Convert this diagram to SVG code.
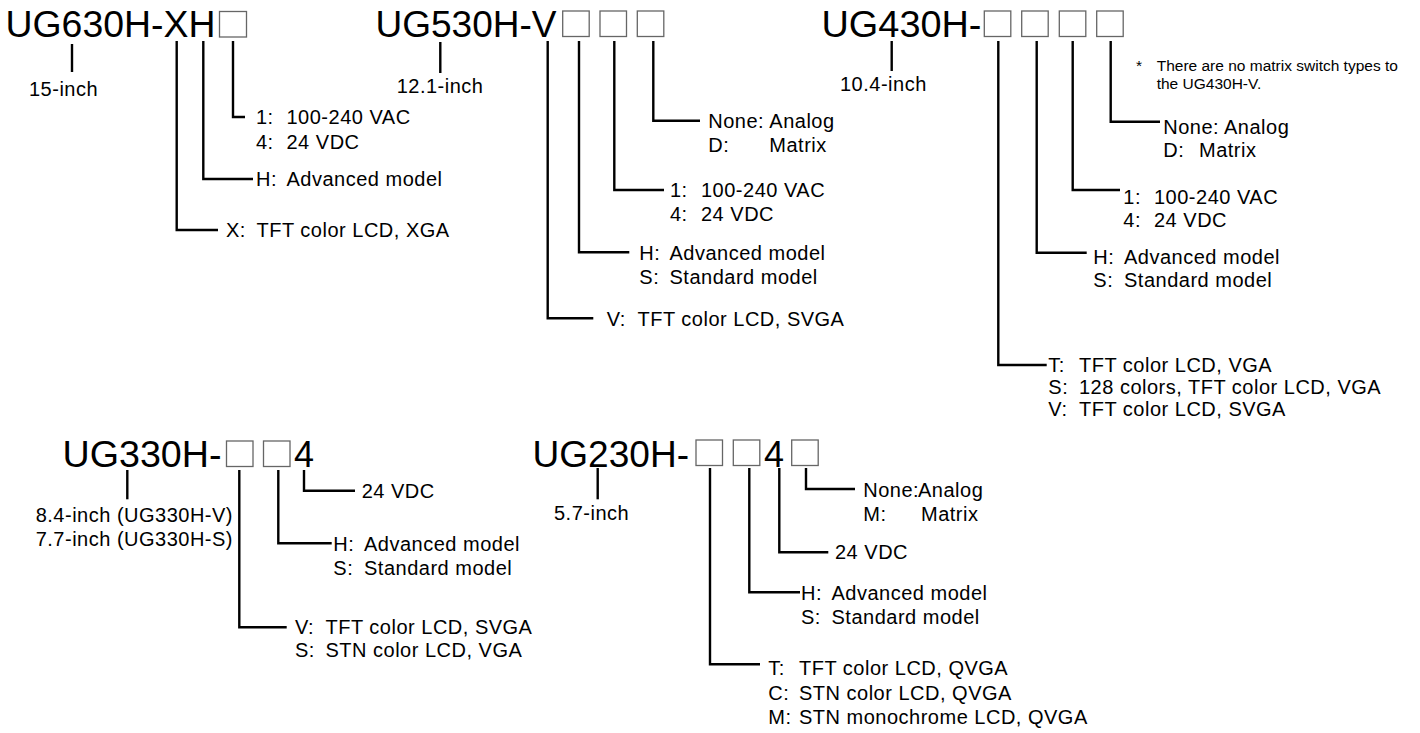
<svg xmlns="http://www.w3.org/2000/svg" width="1420" height="733" viewBox="0 0 1420 733">
<style>
text{font-family:"Liberation Sans",Arial,sans-serif;fill:#000}
.t{font-size:36px}
.l{font-size:20px;letter-spacing:0.5px}
.n{font-size:15.5px}
.b{fill:#fff;stroke:#666;stroke-width:1.3}
.c{fill:none;stroke:#000;stroke-width:2.4;stroke-linejoin:miter}
</style>
<rect width="1420" height="733" fill="#fff"/>
<g id="connectors">
<path class="c" d="M72 44V72"/>
<path class="c" d="M233 41V117H245"/>
<path class="c" d="M203.3 41V179H253"/>
<path class="c" d="M176.7 41V230H218"/>
<path class="c" d="M440.3 42V73"/>
<path class="c" d="M653.3 41V120.7H700"/>
<path class="c" d="M614.3 41V190H664"/>
<path class="c" d="M579 41V252.3H629.3"/>
<path class="c" d="M547.7 41V318.3H593.3"/>
<path class="c" d="M891.7 41V71"/>
<path class="c" d="M1110.7 41V121.7H1160"/>
<path class="c" d="M1072.7 41V190H1120"/>
<path class="c" d="M1036.7 41V252.7H1086.7"/>
<path class="c" d="M998.3 41V365H1046.7"/>
<path class="c" d="M127.3 470V499.3"/>
<path class="c" d="M304 470V490.7H355"/>
<path class="c" d="M278.3 470V543.3H331.7"/>
<path class="c" d="M239.3 470V627.3H286.7"/>
<path class="c" d="M597.7 468V499.3"/>
<path class="c" d="M806 468V489H855"/>
<path class="c" d="M779.3 468V552.3H828.3"/>
<path class="c" d="M749.3 468V592.3H800"/>
<path class="c" d="M710 468V664.3H760"/>
</g>
<g id="ug630h">
<text class="t" x="5.5" y="37" textLength="210" lengthAdjust="spacingAndGlyphs">UG630H-XH</text>
<rect class="b" x="219.5" y="11.5" width="27" height="25.5"/>
<text class="l" x="29" y="96">15-inch</text>
<text class="l" x="256" y="124">1:<tspan x="286.5">100-240 VAC</tspan></text>
<text class="l" x="256" y="149">4:<tspan x="286.5">24 VDC</tspan></text>
<text class="l" x="256" y="186">H:<tspan x="286.5">Advanced model</tspan></text>
<text class="l" x="226" y="237">X:<tspan x="256.5">TFT color LCD, XGA</tspan></text>
</g>
<g id="ug530h">
<text class="t" x="375.5" y="36.5" textLength="181" lengthAdjust="spacingAndGlyphs">UG530H-V</text>
<rect class="b" x="562.7" y="11" width="26.5" height="25.5"/>
<rect class="b" x="600" y="11" width="26.5" height="25.5"/>
<rect class="b" x="637.3" y="11" width="26.5" height="25.5"/>
<text class="l" x="396.7" y="93">12.1-inch</text>
<text class="l" x="708.3" y="127.5">None:<tspan x="769.3">Analog</tspan></text>
<text class="l" x="708.3" y="152">D:<tspan x="769.3">Matrix</tspan></text>
<text class="l" x="670" y="197">1:<tspan x="701">100-240 VAC</tspan></text>
<text class="l" x="670" y="221">4:<tspan x="701">24 VDC</tspan></text>
<text class="l" x="639.3" y="259.5">H:<tspan x="669.5">Advanced model</tspan></text>
<text class="l" x="639.3" y="284">S:<tspan x="669.5">Standard model</tspan></text>
<text class="l" x="606.7" y="325.5">V:<tspan x="637.5">TFT color LCD, SVGA</tspan></text>
</g>
<g id="ug430h">
<text class="t" x="821.5" y="36.5" textLength="160" lengthAdjust="spacingAndGlyphs">UG430H-</text>
<rect class="b" x="984.3" y="11" width="26.5" height="25.5"/>
<rect class="b" x="1021.7" y="11" width="26.5" height="25.5"/>
<rect class="b" x="1059.3" y="11" width="26.5" height="25.5"/>
<rect class="b" x="1096.7" y="11" width="26.5" height="25.5"/>
<text class="l" x="840" y="91">10.4-inch</text>
<text class="n" x="1136" y="71">*</text>
<text class="n" x="1156.7" y="71">There are no matrix switch types to</text>
<text class="n" x="1156.7" y="89">the UG430H-V.</text>
<text class="l" x="1163.3" y="134">None:<tspan x="1224">Analog</tspan></text>
<text class="l" x="1163.3" y="157">D:<tspan x="1199">Matrix</tspan></text>
<text class="l" x="1123.3" y="204">1:<tspan x="1154">100-240 VAC</tspan></text>
<text class="l" x="1123.3" y="227">4:<tspan x="1154">24 VDC</tspan></text>
<text class="l" x="1093.3" y="264">H:<tspan x="1124">Advanced model</tspan></text>
<text class="l" x="1093.3" y="287">S:<tspan x="1124">Standard model</tspan></text>
<text class="l" x="1048.3" y="372">T:<tspan x="1079">TFT color LCD, VGA</tspan></text>
<text class="l" x="1048.3" y="394">S:<tspan x="1079">128 colors, TFT color LCD, VGA</tspan></text>
<text class="l" x="1048.3" y="416">V:<tspan x="1079">TFT color LCD, SVGA</tspan></text>
</g>
<g id="ug330h">
<text class="t" x="62.5" y="466.5" textLength="159" lengthAdjust="spacingAndGlyphs">UG330H-</text>
<rect class="b" x="226.5" y="441" width="26.5" height="25.5"/>
<rect class="b" x="263.5" y="441" width="26.5" height="25.5"/>
<text class="t" x="294" y="466.5">4</text>
<text class="l" x="35.7" y="521.5">8.4-inch (UG330H-V)</text>
<text class="l" x="35.7" y="546">7.7-inch (UG330H-S)</text>
<text class="l" x="361.7" y="498">24 VDC</text>
<text class="l" x="333.3" y="550.5">H:<tspan x="364">Advanced model</tspan></text>
<text class="l" x="333.3" y="575">S:<tspan x="364">Standard model</tspan></text>
<text class="l" x="295" y="634">V:<tspan x="325.5">TFT color LCD, SVGA</tspan></text>
<text class="l" x="295" y="657">S:<tspan x="325.5">STN color LCD, VGA</tspan></text>
</g>
<g id="ug230h">
<text class="t" x="532.5" y="466.5" textLength="156.5" lengthAdjust="spacingAndGlyphs">UG230H-</text>
<rect class="b" x="696" y="440" width="26.5" height="25.5"/>
<rect class="b" x="733.3" y="440" width="26.5" height="25.5"/>
<text class="t" x="764" y="466.5">4</text>
<rect class="b" x="791.7" y="440" width="26.5" height="25.5"/>
<text class="l" x="554" y="520">5.7-inch</text>
<text class="l" x="863.3" y="497">None:<tspan x="918">Analog</tspan></text>
<text class="l" x="863.3" y="521">M:<tspan x="921">Matrix</tspan></text>
<text class="l" x="835" y="559">24 VDC</text>
<text class="l" x="801" y="599.5">H:<tspan x="831.5">Advanced model</tspan></text>
<text class="l" x="801" y="624">S:<tspan x="831.5">Standard model</tspan></text>
<text class="l" x="768.3" y="675">T:<tspan x="799">TFT color LCD, QVGA</tspan></text>
<text class="l" x="768.3" y="700">C:<tspan x="799">STN color LCD, QVGA</tspan></text>
<text class="l" x="768.3" y="724">M:<tspan x="799">STN monochrome LCD, QVGA</tspan></text>
</g>
</svg>
